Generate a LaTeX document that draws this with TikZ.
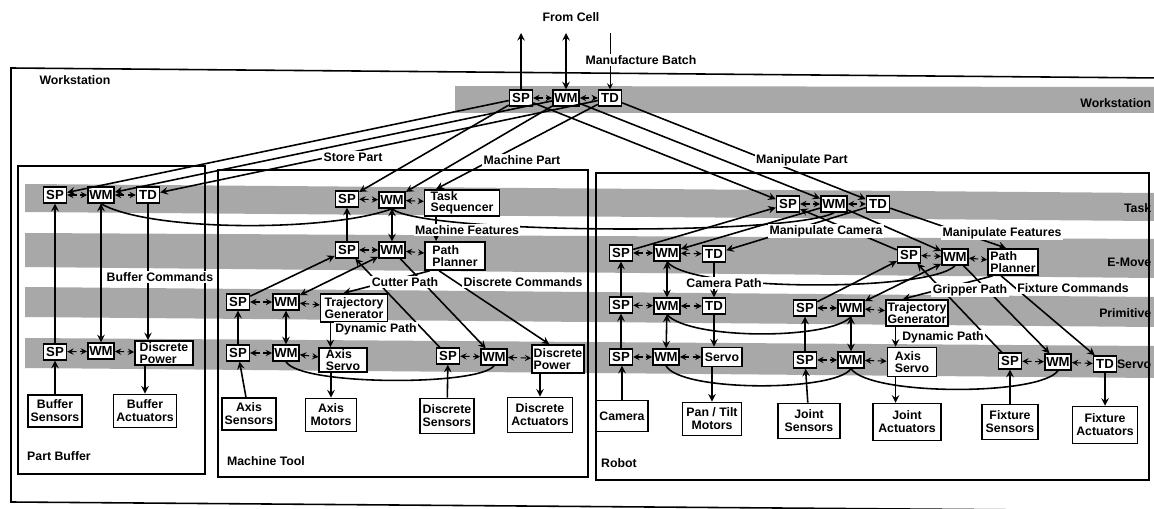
\documentclass[tikz,border=0pt]{standalone}
\usepackage{fontspec}
\setmainfont{Liberation Sans}
\usetikzlibrary{positioning}

\begin{document}
\begin{tikzpicture}[x=0.2mm,y=-0.2mm,>=stealth,line width=0.9pt,
  font=\fontsize{7}{7.5}\selectfont\bfseries,
  mod/.style={draw,fill=white,inner sep=0.8pt,minimum width=13pt,minimum height=9pt,
    font=\fontsize{7.5}{7.5}\selectfont\bfseries},
  blk/.style={draw,fill=white,inner sep=1pt,align=left,font=\fontsize{7}{6.5}\selectfont\bfseries},
  dev/.style={draw,fill=white,inner sep=1pt,align=center},
  lbl/.style={fill=white,inner sep=0.8pt},
  lvl/.style={anchor=east,inner sep=0pt},
  band/.style={fill=black!34},
  peer/.style={<->,densely dashed,line width=0.6pt},
  wmc/.style={line width=0.9pt}]
\useasboundingbox (0,0) rectangle (1154,509);

% level bands
\fill[band] (455,86) -- (1154,87) -- (1154,113) -- (455,113) -- cycle;
\fill[band] (25,184) -- (1154,193) -- (1154,221) -- (25,212) -- cycle;
\fill[band] (25,233) -- (1154,239) -- (1154,278) -- (25,267) -- cycle;
\fill[band] (25,287) -- (1154,297) -- (1154,327) -- (25,317) -- cycle;
\fill[band] (25,338) -- (1154,346) -- (1154,378) -- (25,368) -- cycle;

% frames
\draw (1160,78) -- (11,68) -- (11,502) -- (1160,511);
\draw (18,166) rectangle (205,474);
\draw (218,170) rectangle (588,477);
\draw (596,173) rectangle (1149,480);
\node (wsName) at (75,80) {Workstation};
\node (pbName) at (59,456) {Part Buffer};
\node (mtName) at (266,461) {Machine Tool};
\node (rbName) at (619,463) {Robot};

% workstation
\node[mod] (wsSP) at (521,98) {SP};
\node[mod] (wsWM) at (566,98) {WM};
\node[mod] (wsTD) at (610,98) {TD};
\coordinate (cellSP) at (521,33);
\coordinate (cellWM) at (566,33);
\coordinate (cellTD) at (610,33);

% part buffer
\node[mod] (pbTsp) at (55,195) {SP};
\node[mod] (pbTwm) at (101,195) {WM};
\node[mod] (pbTtd) at (148,195) {TD};
\node[mod] (pbSsp) at (55,352) {SP};
\node[mod] (pbSwm) at (101,351) {WM};
\node[blk,minimum width=33pt,minimum height=13.5pt] (pbSpow) at (164,353) {Discrete\\Power};
\node[dev,minimum width=30.5pt,minimum height=18pt] (pbSens) at (55,411) {Buffer\\Sensors};
\node[dev,minimum width=36pt,minimum height=19pt] (pbAct) at (145,411) {Buffer\\Actuators};

% machine tool
\node[mod] (mtTsp) at (347,199) {SP};
\node[mod] (mtTwm) at (392,200) {WM};
\node[blk,minimum width=42.5pt,minimum height=15pt] (mtTseq) at (462,203) {Task\\Sequencer};
\node[mod] (mtEsp) at (347,250) {SP};
\node[mod] (mtEwm) at (392,250) {WM};
\node[blk,minimum width=34pt,minimum height=16pt] (mtEpp) at (455,256) {Path\\Planner};
\node[mod] (mtPsp) at (238,302) {SP};
\node[mod] (mtPwm) at (286,302) {WM};
\node[blk,minimum width=38pt,minimum height=16pt] (mtPtg) at (354,308) {Trajectory\\Generator};
\node[mod] (mtSsp) at (238,353) {SP};
\node[mod] (mtSwm) at (286,353) {WM};
\node[blk,minimum width=27pt,minimum height=13.5pt] (mtSax) at (343,360) {Axis\\Servo};
\node[mod] (mtDsp) at (448,356) {SP};
\node[mod] (mtDwm) at (494,357) {WM};
\node[blk,minimum width=28.5pt,minimum height=16pt] (mtDpow) at (558,359) {Discrete\\Power};
\node[dev,minimum width=31pt,minimum height=18pt] (mtAsens) at (249,414) {Axis\\Sensors};
\node[dev,minimum width=29pt,minimum height=19pt] (mtAmot) at (331,415) {Axis\\Motors};
\node[dev,minimum width=30.5pt,minimum height=20pt] (mtDsens) at (447,416) {Discrete\\Sensors};
\node[dev,minimum width=37pt,minimum height=20pt] (mtDact) at (540,415) {Discrete\\Actuators};

% robot
\node[mod] (rbTsp) at (788,204) {SP};
\node[mod] (rbTwm) at (834,204) {WM};
\node[mod] (rbTtd) at (878,204) {TD};
\node[mod] (caEsp) at (621,253) {SP};
\node[mod] (caEwm) at (667,253) {WM};
\node[mod] (caEtd) at (714,254) {TD};
\node[mod] (caPsp) at (621,305) {SP};
\node[mod] (caPwm) at (667,306) {WM};
\node[mod] (caPtd) at (714,306) {TD};
\node[mod] (caSsp) at (621,357) {SP};
\node[mod] (caSwm) at (666,357) {WM};
\node[blk,minimum width=22.5pt,minimum height=11pt] (caSsv) at (722,357) {Servo};
\node[dev,minimum width=29.5pt,minimum height=17.5pt] (camera) at (622,416) {Camera};
\node[dev,minimum width=33.5pt,minimum height=19pt] (pantilt) at (712,419) {Pan / Tilt\\Motors};
\node[mod] (arEsp) at (909,255) {SP};
\node[mod] (arEwm) at (955,257) {WM};
\node[blk,minimum width=28.5pt,minimum height=15pt] (arEpp) at (1013,262) {Path\\Planner};
\node[mod] (arPsp) at (805,308) {SP};
\node[mod] (arPwm) at (851,308) {WM};
\node[blk,minimum width=33.5pt,minimum height=15pt] (arPtg) at (917,313) {Trajectory\\Generator};
\node[mod] (arSsp) at (805,360) {SP};
\node[mod] (arSwm) at (851,360) {WM};
\node[blk,minimum width=28pt,minimum height=16.5pt] (arSax) at (912,362) {Axis\\Servo};
\node[mod] (fxSsp) at (1010,361) {SP};
\node[mod] (fxSwm) at (1058,362) {WM};
\node[mod] (fxStd) at (1105,364) {TD};
\node[dev,minimum width=35pt,minimum height=20pt] (jsens) at (809,421) {Joint\\Sensors};
\node[dev,minimum width=39pt,minimum height=21pt] (jact) at (907,422) {Joint\\Actuators};
\node[dev,minimum width=32pt,minimum height=20pt] (fsens) at (1010,422) {Fixture\\Sensors};
\node[dev,minimum width=37pt,minimum height=21pt] (fact) at (1105,425) {Fixture\\Actuators};

% peer links inside a level
\draw[peer] (wsSP) -- (wsWM); \draw[peer] (wsWM) -- (wsTD);
\draw[peer] (pbTsp) -- (pbTwm); \draw[peer] (pbTwm) -- (pbTtd);
\draw[peer] (pbSsp) -- (pbSwm); \draw[peer] (pbSwm) -- (pbSpow);
\draw[peer] (mtTsp) -- (mtTwm); \draw[peer] (mtTwm) -- (mtTseq);
\draw[peer] (mtEsp) -- (mtEwm); \draw[peer] (mtEwm) -- (mtEpp);
\draw[peer] (mtPsp) -- (mtPwm); \draw[peer] (mtPwm) -- (mtPtg);
\draw[peer] (mtSsp) -- (mtSwm); \draw[peer] (mtSwm) -- (mtSax);
\draw[peer] (mtDsp) -- (mtDwm); \draw[peer] (mtDwm) -- (mtDpow);
\draw[peer] (rbTsp) -- (rbTwm); \draw[peer] (rbTwm) -- (rbTtd);
\draw[peer] (caEsp) -- (caEwm); \draw[peer] (caEwm) -- (caEtd);
\draw[peer] (caPsp) -- (caPwm); \draw[peer] (caPwm) -- (caPtd);
\draw[peer] (caSsp) -- (caSwm); \draw[peer] (caSwm) -- (caSsv);
\draw[peer] (arEsp) -- (arEwm); \draw[peer] (arEwm) -- (arEpp);
\draw[peer] (arPsp) -- (arPwm); \draw[peer] (arPwm) -- (arPtg);
\draw[peer] (arSsp) -- (arSwm); \draw[peer] (arSwm) -- (arSax);
\draw[peer] (fxSsp) -- (fxSwm); \draw[peer] (fxSwm) -- (fxStd);

% from cell
\draw[->] (wsSP) -- (cellSP);
\draw[<->] (wsWM) -- (cellWM);
\draw[<-,line width=0.5pt] (wsTD) -- (cellTD);

% workstation to task level
\draw[->] (wsSP) -- (pbTsp);
\draw[->] (wsWM) -- (pbTwm);
\draw[->] (wsTD) -- (pbTtd);
\draw[->] (wsSP) -- (mtTsp);
\draw[->] (wsWM) -- (mtTwm);
\draw[->] (wsTD) -- ([xshift=7pt]mtTseq.north west);
\draw[->] (wsSP) -- (rbTsp);
\draw[->] (wsWM) -- (rbTwm);
\draw[->] (wsTD) -- (rbTtd);

% part buffer
\draw[->] (pbSsp) -- (pbTsp);
\draw[<->] (pbTwm) -- (pbSwm);
\draw[->] (pbTtd) -- (pbTtd |- pbSpow.north);
\draw[->] (pbSens) -- (pbSsp);
\draw[->] (pbAct |- pbSpow.south) -- (pbAct);

% machine tool
\draw[->] (mtEsp) -- (mtTsp);
\draw[<->] (mtTwm) -- (mtEwm);
\draw[->] ([xshift=7pt]mtTseq.south west) -- ([xshift=7pt]mtTseq.south west |- mtEpp.north);
\draw[->] (mtPsp) -- (mtEsp);
\draw[<->] (mtEwm) -- (mtPwm);
\draw[->] ([xshift=3pt]mtEpp.south west) -- ([xshift=-6pt]mtPtg.north);
\draw[->] (mtDsp) -- (mtEsp);
\draw[->] (mtEwm) -- (mtDwm);
\draw[->] ([xshift=-9pt]mtEpp.south) -- ([xshift=-5pt]mtDpow.north);
\draw[->] (mtSsp) -- (mtPsp);
\draw[<->] (mtPwm) -- (mtSwm);
\draw[->] ([xshift=6pt]mtPtg.south west) -- ([xshift=6pt]mtPtg.south west |- mtSax.north);
\draw[->] (mtAsens) -- (mtSsp);
\draw[->] (mtAmot |- mtSax.south) -- (mtAmot);
\draw[->] (mtDsens) -- (mtDsp);
\draw[->] (mtDact |- mtDpow.south) -- (mtDact);

% robot
\draw[->] (caEsp) -- (rbTsp);
\draw[->] (rbTwm) -- (caEwm);
\draw[->] (rbTtd) -- (caEtd);
\draw[->] (arEsp) -- (rbTsp);
\draw[->] (rbTwm) -- (arEwm);
\draw[->] (rbTtd) -- ([xshift=-4pt]arEpp.north);
\draw[->] (caPsp) -- (caEsp);
\draw[<->] (caEwm) -- (caPwm);
\draw[->] (caEtd) -- (caPtd);
\draw[->] (caSsp) -- (caPsp);
\draw[<->] (caPwm) -- (caSwm);
\draw[->] (caPtd) -- (caPtd |- caSsv.north);
\draw[->] (camera) -- (camera |- caSsp.south);
\draw[->] (pantilt |- caSsv.south) -- (pantilt);
\draw[->] (arPsp) -- (arEsp);
\draw[<->] (arEwm) -- (arPwm);
\draw[->] ([xshift=3pt]arEpp.south west) -- ([xshift=-8pt]arPtg.north);
\draw[->] (fxSsp) -- (arEsp);
\draw[->] (arEwm) -- (fxSwm);
\draw[->] ([xshift=8pt]arEpp.south west) -- (fxStd);
\draw[->] (arSsp) -- (arPsp);
\draw[<->] (arPwm) -- (arSwm);
\draw[->] ([xshift=6pt]arPtg.south west) -- ([xshift=6pt]arPtg.south west |- arSax.north);
\draw[->] (jsens) -- (arSsp);
\draw[->] ([xshift=6pt]arPtg.south west |- arSax.south) -- ([xshift=6pt]arPtg.south west |- jact.north);
\draw[->] (fsens) -- (fxSsp);
\draw[->] (fxStd) -- (fxStd |- fact.north);

% world model links between neighbours
\draw[wmc] (pbTwm.south) .. controls (150,232) and (330,232) .. (mtTwm.south);
\draw[wmc] (mtTwm.south) .. controls (420,234) and (790,236) .. (rbTwm.south);
\draw[wmc] (caEwm.south) .. controls (690,292) and (930,292) .. (arEwm.south);
\draw[wmc] (caPwm.south) .. controls (690,340) and (830,340) .. (arPwm.south);
\draw[wmc] (mtSwm.south) .. controls (300,386) and (480,386) .. (mtDwm.south);
\draw[wmc] (caSwm.south) .. controls (680,392) and (835,392) .. (arSwm.south);
\draw[wmc] (arSwm.south) .. controls (870,396) and (1040,396) .. (fxSwm.south);

% connector labels
\node[lbl] (lFrom) at (571,17) {From Cell};
\node[lbl] (lBatch) at (641,60) {Manufacture Batch};
\node[lbl] (lStore) at (353,157) {Store Part};
\node[lbl] (lMach) at (522,160) {Machine Part};
\node[lbl] (lManip) at (802,160) {Manipulate Part};
\node[lbl] (lBuf) at (160,277) {Buffer Commands};
\node[lbl] (lFeat) at (467,230) {Machine Features};
\node[lbl] (lCut) at (405,282) {Cutter Path};
\node[lbl] (lDisc) at (523,282) {Discrete Commands};
\node[lbl] (lDynM) at (376,329) {Dynamic Path};
\node[lbl] (lCamM) at (826,231) {Manipulate Camera};
\node[lbl] (lFeatR) at (1002,233) {Manipulate Features};
\node[lbl] (lCamP) at (724,283) {Camera Path};
\node[lbl] (lGrip) at (970,290) {Gripper Path};
\node[lbl] (lFix) at (1073,288) {Fixture Commands};
\node[lbl] (lDynR) at (943,337) {Dynamic Path};

% level names
\node[lvl] (lvWS) at (1152,103) {Workstation};
\node[lvl] (lvT) at (1152,208) {Task};
\node[lvl] (lvE) at (1152,262) {E-Move};
\node[lvl] (lvP) at (1152,313) {Primitive};
\node[lvl] (lvS) at (1152,364) {Servo};
\end{tikzpicture}
\end{document}
